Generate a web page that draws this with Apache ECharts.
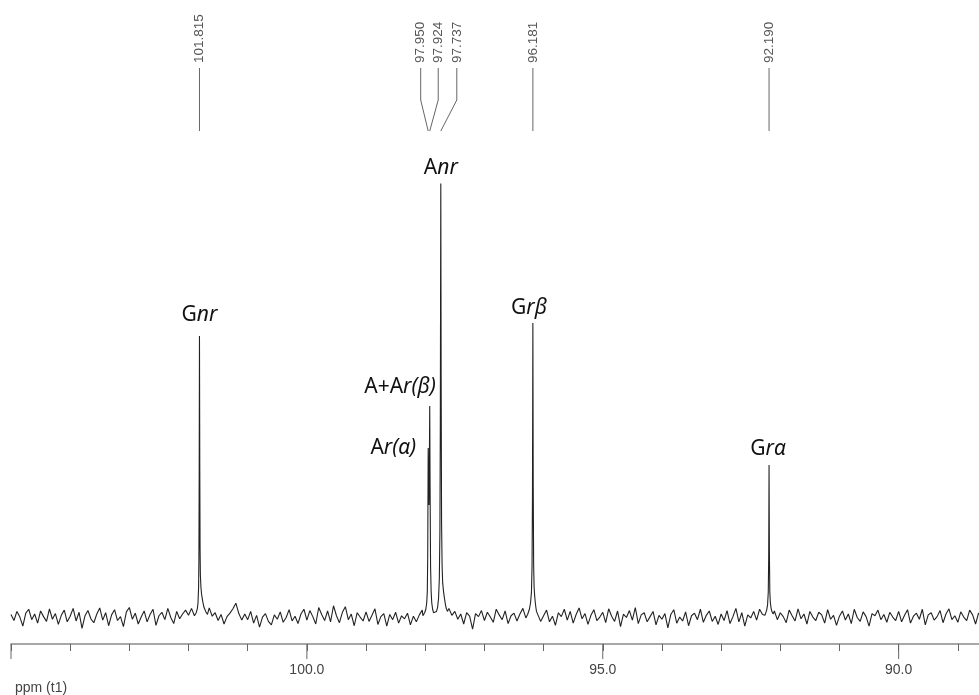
<!DOCTYPE html>
<html>
<head>
<meta charset="utf-8">
<script src="https://cdn.jsdelivr.net/npm/echarts@6/dist/echarts.min.js"></script>
<style>
  html, body { margin: 0; padding: 0; background: #fff; }
  #main { width: 979px; height: 695px; }
</style>
</head>
<body>
<div id="main"></div>
<script>
// baseline noise: one value every 0.05 ppm from 105.00 down to 88.60
const noiseStart = 105.0;
const noiseStep = 0.05;
const baselineNoise = [
  0.8, -0.6, 1.5, 0.2, -1.9, 1.1, 2.0, -0.4, 0.9, -1.2, 1.6, 0.3, -0.8, 2.1, -0.3, 1.0, -1.5, 0.6, 1.8, -0.9,
  0.4, 2.2, -0.7, 1.3, -2.4, 0.5, 1.7, -0.2, -1.1, 0.9, 2.3, -0.5, 1.2, -1.8, 0.7, 1.9, -0.6, 0.3, -2.0, 1.4,
  2.4, -0.3, 1.1, -1.4, 0.2, 1.6, -0.9, 0.8, 2.0, -1.7, 0.5, 1.3, -0.4, 2.2, 0.1, -1.3, 1.5, -0.2, 0.9, 1.8,
  0.6, 2.2, 0, 0, 0, 0, 0, 2.3, 0.4, 1.2, -0.6, 0.8, -1.4, 0.3, 1.1, 2.1, 3.4, 1.0, -0.5, 0.9,
  -0.4, 1.5, -1.2, 0.6, -2.1, 0.2, 1.0, -0.8, -1.6, 0.7, -0.3, 1.4, -1.0, 0.1, 1.9, -0.7, 0.4, -1.3, 0.9, 2.0,
  -0.5, 1.7, 0.3, -1.4, 2.4, 0.8, -0.6, 1.6, -0.9, 2.8, 0.5, -1.1, 1.3, 2.6, -0.4, 0.9, -1.8, 1.2, 0.2, -0.7,
  1.4, -0.8, 0.6, 2.1, -1.5, 0.3, 1.0, -1.9, 0.8, -0.4, 1.3, -1.2, 0.5, -0.2, 1.1, -1.6, 0.4, -0.9, 0.7, 1.8,
  0, 0, 0, 0, 0, 0, 0, 0, 2.2, 0.6, 1.5, -0.3, 0.9, -1.4, 1.2, 0.4, -2.6, 1.0, 0.3, 1.7,
  -0.6, 1.3, 0.2, -1.0, 2.0, 0.7, -0.4, 1.6, -1.3, 0.5, 1.1, -0.7, 0.9, 2.2, 0.0, 0, 0, 0, 1.9, -0.8,
  0.5, 1.8, -0.9, 0.4, -1.7, 1.2, 0.3, 2.0, -0.5, 1.5, -1.2, 0.8, 2.3, -0.2, 1.0, -1.5, 0.6, 1.9, -0.6, 0.2,
  1.3, -1.1, 2.1, 0.4, -0.8, 1.6, -2.0, 0.9, 0.1, 1.7, -0.5, 2.4, -1.3, 0.7, 1.2, -0.9, 0.3, 1.5, -1.6, 0.6,
  -0.3, 1.0, -2.3, 0.8, 1.9, -1.2, 0.2, -0.7, 1.4, -1.8, 0.5, 1.1, -0.4, 2.0, -1.0, 0.6, 1.6, -0.8, 0.4, -1.5,
  0.9, -0.6, 1.7, -1.3, 0.3, 2.2, -0.9, 1.2, -1.9, 0.7, 0.0, 1.5, -0.5, 2.0, 0.8, 0, 0, 0, 1.6, -0.4,
  1.2, 0.3, -1.1, 1.8, 0.5, -0.7, 2.1, -0.2, 0.9, -1.4, 1.5, 0.2, -0.6, 1.3, 0.7, -1.2, 1.9, -0.3, 0.6, -1.7,
  0.4, 1.6, -0.5, 0.9, -1.3, 2.0, 0.1, -0.8, 1.4, 0.3, -1.9, 1.0, 0.5, 1.8, -0.4, 0.8, -1.0, 1.3, 0.2, -0.6,
  1.5, -0.9, 0.6, 1.9, -1.2, 0.4, 1.1, -0.3, 2.0, -1.6, 0.7, 1.2, -0.5, 0.3, 1.7, -1.1, 0.9, 2.1, -0.4, 0.5,
  -1.0, 1.4, 0.2, -0.6, 1.8, 0.7, -1.4, 1.1, 0.3
];

// peak profiles [ppm, intensity], Anr = 100
const gnrProfile = [
  [101.90, 0.5], [101.87, 1.2], [101.85, 2.2], [101.84, 3.5], [101.83, 7], [101.825, 13],
  [101.82, 32], [101.815, 64.9], [101.81, 35], [101.805, 16], [101.80, 10], [101.79, 7],
  [101.78, 5.5], [101.76, 3.8], [101.74, 2.5], [101.71, 1.5], [101.68, 0.8]
];
const anrProfile = [
  [98.04, 0.5], [98.01, 1.2], [97.99, 2.0], [97.975, 3.5], [97.965, 6], [97.958, 14],
  [97.950, 39.1], [97.944, 30], [97.937, 26], [97.930, 36], [97.924, 48.8], [97.918, 30],
  [97.910, 12], [97.900, 6], [97.890, 3.5], [97.875, 2], [97.860, 1.2], [97.83, 0.8],
  [97.81, 1.5], [97.79, 2.5], [97.775, 4.5], [97.762, 9], [97.752, 20], [97.745, 45],
  [97.737, 100], [97.731, 55], [97.724, 22], [97.715, 12], [97.705, 8], [97.69, 6],
  [97.675, 4.5], [97.66, 3.2], [97.645, 2.2], [97.625, 1.5]
];
const grBetaProfile = [
  [96.27, 0.8], [96.24, 2.0], [96.22, 3.5], [96.205, 6], [96.195, 12], [96.188, 28],
  [96.181, 67.9], [96.175, 30], [96.168, 12], [96.16, 7], [96.15, 5], [96.14, 3.5],
  [96.13, 2.4], [96.12, 1.5]
];
const grAlphaProfile = [
  [92.26, 0.6], [92.23, 1.8], [92.215, 3], [92.203, 6], [92.196, 14], [92.190, 35.2],
  [92.184, 15], [92.177, 6], [92.168, 3.5], [92.155, 2.2], [92.14, 1.4], [92.12, 0.9]
];

// peak picking shown above the spectrum
const pickedPpm = [101.815, 97.950, 97.924, 97.737, 96.181, 92.190];

// assignments
const tagText = ['{u|G}{i|nr}', '{u|A+A}{i|r(β)}', '{u|A}{i|r(α)}', '{u|A}{i|nr}', '{u|G}{i|rβ}', '{u|G}{i|rα}'];
const tagPpm = [101.815, 97.924, 97.950, 97.737, 96.181, 92.190];
const tagHeight = [64.9, 48.8, 39.1, 100, 67.9, 35.2];

// labelled (long) ticks
const majorTicks = [90, 95, 100, 105];
const tickLabels = [90, 95, 100];

// ---- build line data ----
const profiles = [gnrProfile, anrProfile, grBetaProfile, grAlphaProfile];
const windows = profiles.map(p => {
  const xs = p.map(d => d[0]);
  return [Math.min(...xs), Math.max(...xs)];
});
const points = [];
baselineNoise.forEach((v, i) => {
  const ppm = +(noiseStart - i * noiseStep).toFixed(2);
  const inPeak = windows.some(w => ppm >= w[0] - 1e-9 && ppm <= w[1] + 1e-9);
  if (!inPeak) points.push([ppm, v]);
});
profiles.forEach(p => p.forEach(d => points.push(d)));
points.sort((a, b) => b[0] - a[0]);

// pixel shifts for the crowded pick labels, and tag placement
const labelShift = [0, -7.5, 8.5, 16, 0, 0];
const tagPlace = [
  { dx: 0, dy: -21, align: 'center' },
  { dx: 6, dy: -19, align: 'right' },
  { dx: -12, dy: 0, align: 'right' },
  { dx: 0, dy: -15, align: 'center' },
  { dx: -4, dy: -15, align: 'center' },
  { dx: -1, dy: -16, align: 'center' }
];

const Y_MIN = -6;

const chart = echarts.init(document.getElementById('main'));

const option = {
  animation: false,
  backgroundColor: '#fff',
  grid: { left: 11, right: -38, top: 140, bottom: 51, outerBoundsMode: 'none', containLabel: false },
  xAxis: {
    type: 'value',
    min: 88,
    max: 105,
    interval: 1,
    inverse: true,
    axisLine: { onZero: false, lineStyle: { color: '#8a8a8a', width: 1.5 } },
    axisTick: { inside: false, length: 7, lineStyle: { color: '#666', width: 1 } },
    axisLabel: {
      margin: 19,
      color: '#444',
      fontSize: 14,
      fontFamily: '"Liberation Sans", Arial, sans-serif',
      formatter: v => tickLabels.indexOf(Math.round(v)) >= 0 && Math.abs(v - Math.round(v)) < 1e-6 ? v.toFixed(1) : ''
    },
    splitLine: { show: false }
  },
  yAxis: { type: 'value', min: Y_MIN, max: 110, show: false },
  graphic: [{
    type: 'text',
    left: 15,
    top: 681,
    style: { text: 'ppm (t1)', font: '14px "Liberation Sans", Arial, sans-serif', fill: '#444' }
  }],
  series: [{
    type: 'line',
    data: points,
    showSymbol: false,
    symbol: 'none',
    lineStyle: { color: '#222', width: 1.1 },
    silent: true
  }, {
    // long ticks under the labelled values
    type: 'custom',
    coordinateSystem: 'cartesian2d',
    clip: false,
    silent: true,
    data: majorTicks.map(v => [v, Y_MIN]),
    renderItem: (params, api) => {
      const p = api.coord([api.value(0), Y_MIN]);
      return {
        type: 'line',
        shape: { x1: p[0], y1: p[1], x2: p[0], y2: p[1] + 15 },
        style: { stroke: '#666', lineWidth: 1 }
      };
    }
  }, {
    type: 'custom',
    coordinateSystem: 'cartesian2d',
    clip: false,
    silent: true,
    data: pickedPpm.map(p => [p, 0]),
    renderItem: (params, api) => {
      const i = params.dataIndex;
      const x = api.coord([api.value(0), 0])[0];
      const lx = x + labelShift[i];
      return {
        type: 'group',
        children: [{
          type: 'polyline',
          shape: { points: [[lx, 68], [lx, 100], [x, 131]] },
          style: { stroke: '#666', lineWidth: 1, fill: null }
        }, {
          type: 'text',
          x: lx,
          y: 63,
          rotation: Math.PI / 2,
          style: {
            text: pickedPpm[i].toFixed(3),
            align: 'left',
            verticalAlign: 'middle',
            font: '13.5px "Liberation Sans", Arial, sans-serif',
            fill: '#555'
          }
        }]
      };
    }
  }, {
    type: 'custom',
    coordinateSystem: 'cartesian2d',
    clip: false,
    silent: true,
    data: tagPpm.map((p, i) => [p, tagHeight[i]]),
    renderItem: (params, api) => {
      const i = params.dataIndex;
      const pt = api.coord([api.value(0), api.value(1)]);
      const pl = tagPlace[i];
      return {
        type: 'text',
        x: pt[0] + pl.dx,
        y: pt[1] + pl.dy,
        style: {
          text: tagText[i],
          align: pl.align,
          verticalAlign: 'middle',
          fill: '#111',
          font: '21px "Noto Sans", sans-serif',
          rich: {
            u: { fontSize: 21, fontFamily: '"Noto Sans", sans-serif', fill: '#111' },
            i: { fontSize: 21, fontFamily: '"Noto Sans", sans-serif', fontStyle: 'italic', fill: '#111' }
          }
        }
      };
    }
  }]
};

chart.setOption(option);
</script>
</body>
</html>
